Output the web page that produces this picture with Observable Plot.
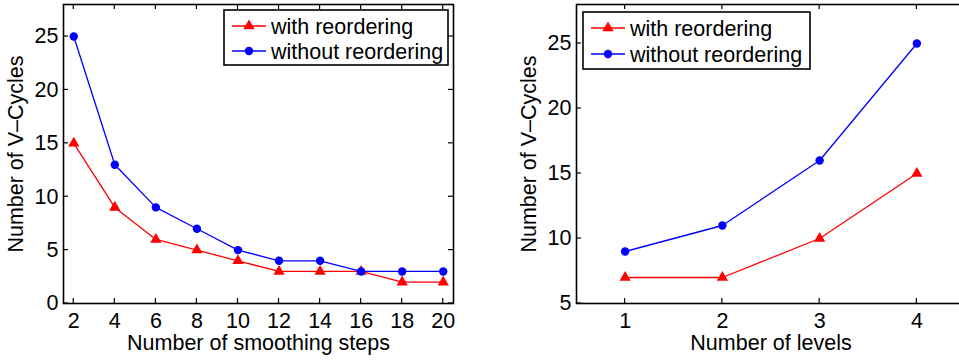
<!DOCTYPE html>
<html><head><meta charset="utf-8">
<script src="https://cdn.jsdelivr.net/npm/d3@7"></script>
<script src="https://cdn.jsdelivr.net/npm/@observablehq/plot@0.6"></script>
<style>
html,body{margin:0;padding:0;background:#fff;overflow:hidden;}
#wrap{display:flex;width:959px;height:360px;}
#p1{width:480px;height:360px;overflow:hidden;flex:none}
#p2{width:479px;height:360px;overflow:hidden;flex:none}
svg{max-width:none !important}
svg text{font-family:"Liberation Sans",Arial,Helvetica,sans-serif}
</style></head><body>
<div id="wrap"><div id="p1"></div><div id="p2"></div></div>
<script>
const seriesNames = ["with reordering", "without reordering"];
const yLabel = "Number of V\u2013Cycles";

const smoothingSteps = [2, 4, 6, 8, 10, 12, 14, 16, 18, 20];
const cyclesWithReorderSmoothing = [15, 9, 6, 5, 4, 3, 3, 3, 2, 2];
const cyclesWithoutReorderSmoothing = [25, 13, 9, 7, 5, 4, 4, 3, 3, 3];
const xTicksSmoothing = [2, 4, 6, 8, 10, 12, 14, 16, 18, 20];
const yTicksSmoothing = [0, 5, 10, 15, 20, 25];

const levels = [1, 2, 3, 4];
const cyclesWithReorderLevels = [7, 7, 10, 15];
const cyclesWithoutReorderLevels = [9, 11, 16, 25];
const xTicksLevels = [1, 2, 3, 4];
const yTicksLevels = [5, 10, 15, 20, 25];

const RED = "#ff0000", BLUE = "#0000ff";
const FONT = '"Liberation Sans",Arial,Helvetica,sans-serif';
const FS = 21.5;

function panel(o) {
  const A = o.xs.map((x, i) => ({x, y: o.a[i]}));
  const B = o.xs.map((x, i) => ({x, y: o.b[i]}));
  const plot = Plot.plot({
    width: o.width, height: 360,
    marginLeft: o.ml, marginRight: o.mr, marginTop: 4, marginBottom: 57,
    style: {fontFamily: FONT, fontSize: FS + "px", color: "black", background: "white", overflow: "visible", maxWidth: "none"},
    x: {domain: o.xDomain, ticks: o.xTicks, tickFormat: d3.format("d"), tickSize: 0, tickPadding: 9, label: o.xLabel,
        labelAnchor: "center", labelOffset: 46, labelArrow: "none"},
    y: {domain: o.yDomain, ticks: o.yTicks, tickFormat: d3.format("d"), tickSize: 0, tickPadding: 5, label: yLabel,
        labelAnchor: "center", labelOffset: 56, labelArrow: "none"},
    marks: [
      Plot.line(A, {x: "x", y: "y", stroke: RED, strokeWidth: 1.3}),
      Plot.dot(A, {x: "x", y: "y", symbol: "triangle", r: 4.2, fill: RED, stroke: "none"}),
      Plot.line(B, {x: "x", y: "y", stroke: BLUE, strokeWidth: 1.3}),
      Plot.dot(B, {x: "x", y: "y", symbol: "circle", r: 4.2, fill: BLUE, stroke: "none"}),
      Plot.frame({stroke: "black", strokeWidth: 1.6})
    ]
  });
  const sx = plot.scale("x"), sy = plot.scale("y");
  const left = o.ml, right = o.width - o.mr, top = 4, bottom = 303;
  const svg = d3.select(plot);
  const g = svg.append("g").attr("stroke", "black").attr("stroke-width", 1.2);
  const T = 5;
  o.xTicks.forEach(v => {
    const X = sx.apply(v);
    g.append("line").attr("x1", X).attr("x2", X).attr("y1", bottom).attr("y2", bottom - T);
    g.append("line").attr("x1", X).attr("x2", X).attr("y1", top).attr("y2", top + T);
  });
  o.yTicks.forEach(v => {
    const Y = sy.apply(v);
    g.append("line").attr("x1", left).attr("x2", left + T).attr("y1", Y).attr("y2", Y);
    g.append("line").attr("x1", right).attr("x2", right - T).attr("y1", Y).attr("y2", Y);
  });
  // legend
  const L = o.legend;
  const lg = svg.append("g").attr("text-anchor", "start");
  lg.append("rect").attr("x", L.x).attr("y", L.y).attr("width", L.w).attr("height", L.h)
    .attr("fill", "white").attr("stroke", "black").attr("stroke-width", 1.6);
  const colors = [RED, BLUE];
  const syms = [d3.symbolTriangle, d3.symbolCircle];
  seriesNames.forEach((name, i) => {
    const cy = L.rows[i];
    lg.append("line").attr("x1", L.lx1).attr("x2", L.lx2).attr("y1", cy).attr("y2", cy)
      .attr("stroke", colors[i]).attr("stroke-width", 1.3);
    lg.append("path").attr("d", d3.symbol(syms[i], Math.PI * 4.2 * 4.2)())
      .attr("transform", `translate(${(L.lx1 + L.lx2) / 2},${cy})`).attr("fill", colors[i]);
    lg.append("text").attr("x", L.tx).attr("y", cy).attr("dy", "0.36em")
      .attr("text-anchor", "start").attr("font-size", FS).attr("fill", "black").text(name);
  });
  return plot;
}

document.getElementById("p1").append(panel({
  xs: smoothingSteps, a: cyclesWithReorderSmoothing, b: cyclesWithoutReorderSmoothing,
  xTicks: xTicksSmoothing, yTicks: yTicksSmoothing, xDomain: [1.5, 20.5], yDomain: [0, 28],
  width: 480, ml: 63, mr: 27, xLabel: "Number of smoothing steps",
  legend: {x: 224, y: 10, w: 224, h: 55, rows: [26, 51], lx1: 232, lx2: 266, tx: 271}
}));
document.getElementById("p2").append(panel({
  xs: levels, a: cyclesWithReorderLevels, b: cyclesWithoutReorderLevels,
  xTicks: xTicksLevels, yTicks: yTicksLevels, xDomain: [0.5, 4.5], yDomain: [5, 28],
  width: 490, ml: 96, mr: 5, xLabel: "Number of levels",
  legend: {x: 103, y: 12, w: 227, h: 57, rows: [28, 54], lx1: 111, lx2: 145, tx: 150}
}));
</script>
</body></html>
